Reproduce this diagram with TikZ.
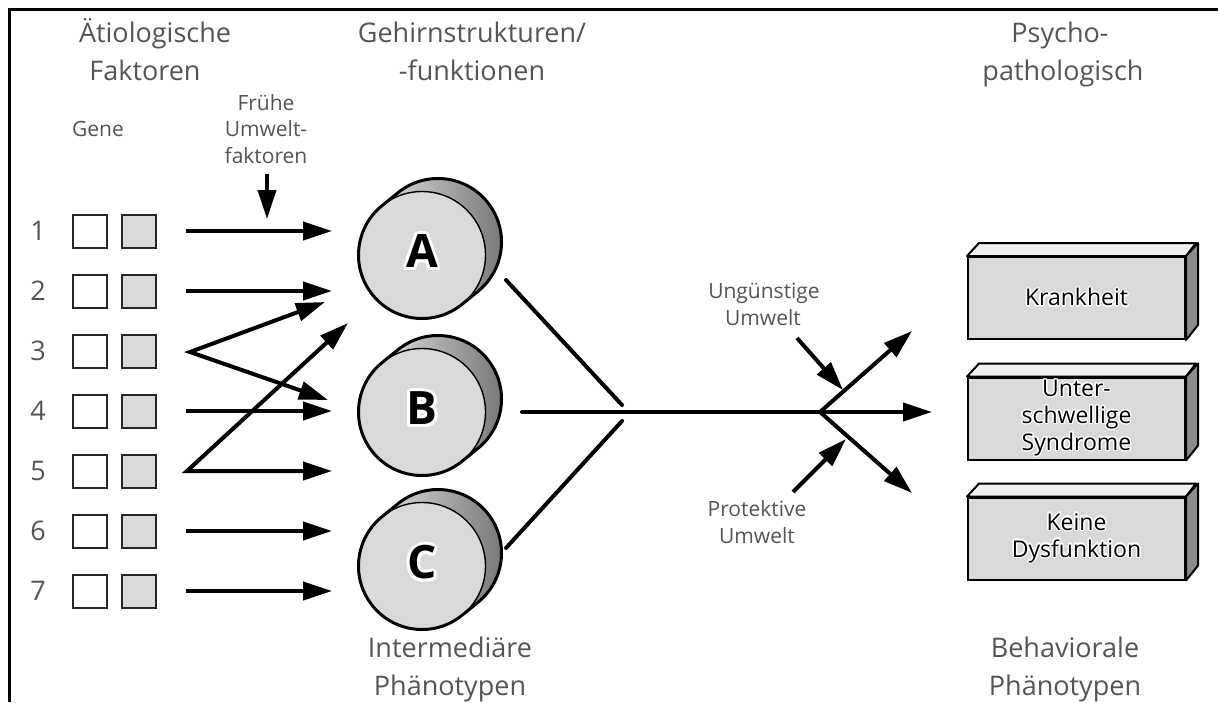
\documentclass[tikz,border=0pt]{standalone}
\usepackage{fontspec}
\setmainfont{Open Sans}
\usepackage{contour}
\contourlength{1.3pt}
\usetikzlibrary{arrows.meta,calc}
\definecolor{txt}{HTML}{555555}
\definecolor{fillg}{HTML}{D9D9D9}
\definecolor{topg}{HTML}{F0F0F0}
\definecolor{sideg}{HTML}{8C8C8C}
\tikzset{
  hdr/.style={font=\fontsize{27}{32}\selectfont, text=txt, anchor=base, inner sep=0pt},
  sml/.style={font=\fontsize{21}{25}\selectfont, text=txt, anchor=base, inner sep=0pt},
  num/.style={font=\fontsize{27}{32}\selectfont, text=txt, anchor=base, inner sep=0pt},
  genebox/.style={draw=black!85, line width=2pt, minimum width=34pt, minimum height=33pt, inner sep=0pt},
  arr/.style={line width=4pt, -{Triangle[length=29pt,width=18pt]}},
  darr/.style={line width=4pt, line join=miter, {Triangle[length=29pt,width=18pt]}-{Triangle[length=29pt,width=18pt]}},
  conn/.style={line width=4pt, line cap=round},
  pfront/.style={draw=black, line width=2pt, fill=fillg, minimum width=217pt, minimum height=82pt, inner sep=0pt, align=center, font=\fontsize{23}{27}\selectfont},
  face/.style={draw=black, line width=2pt, line join=round},
  cyltxt/.style={font=\fontsize{46}{50}\selectfont\bfseries, inner sep=0pt},
  frame/.style={line width=3pt}
}
\newcommand{\mycyl}[4]{%
  \coordinate (#1) at (#2,#3);
  \shade[left color=white!95!black, middle color=white!82!black, right color=black!55]
    ($(#1)+(50.9:63.5)$) -- ++(16,-13) arc[start angle=50.9,end angle=-129.1,radius=63.5]
    -- ($(#1)+(-129.1:63.5)$) arc[start angle=-129.1,end angle=-309.1,radius=63.5] -- cycle;
  \fill[fillg] (#1) circle[radius=63.5];
  \draw[line width=1.4pt] (#1) circle[radius=63.5];
  \draw[line width=3pt, line join=round]
    ($(#1)+(50.9:63.5)$) -- ++(16,-13) arc[start angle=50.9,end angle=-129.1,radius=63.5]
    -- ($(#1)+(-129.1:63.5)$) arc[start angle=-129.1,end angle=-309.1,radius=63.5] -- cycle;
  \node[cyltxt] (#1l) at ($(#1)+(0,-2)$) {\contourlength{3pt}\contour{white}{#4}};
}
\newcommand{\mybox}[3]{%
  \node[pfront] (#1) at (1076.5,#2) {#3};
  \filldraw[face, fill=topg] (#1.north west) -- ++(12,-13) -- ++(217,0) -- (#1.north east) -- cycle;
  \filldraw[face, fill=sideg] (#1.north east) -- ++(12,-13) -- ++(0,82) -- (#1.south east) -- cycle;
}
\begin{document}
\begin{tikzpicture}[x=1pt,y=-1pt]
\useasboundingbox (0,0) rectangle (1218,702);
\fill[white] (0,0) rectangle (1218,702);
% frame
\coordinate (fr1) at (8,9.5);
\coordinate (fr2) at (1218,9.5);
\coordinate (fr3) at (9.5,8);
\coordinate (fr4) at (9.5,702);
\draw[frame] (fr1) -- (fr2);
\draw[frame] (fr3) -- (fr4);
% headers
\node[hdr] (h1a) at (155,42) {Ätiologische};
\node[hdr] (h1b) at (145,80) {Faktoren};
\node[hdr] (h2a) at (472,42) {Gehirnstrukturen/};
\node[hdr] (h2b) at (472,80) {-funktionen};
\node[hdr] (h3a) at (1060,42) {Psycho-};
\node[hdr] (h3b) at (1063,80) {pathologisch};
\node[hdr] (b2a) at (450,657) {Intermediäre};
\node[hdr] (b2b) at (450,695) {Phänotypen};
\node[hdr] (b3a) at (1065,657) {Behaviorale};
\node[hdr] (b3b) at (1065,695) {Phänotypen};
\node[sml] (gene) at (98,136) {Gene};
\node[sml] (fr1l) at (266,110) {Frühe};
\node[sml] (fr2l) at (266,136.5) {Umwelt-};
\node[sml] (fr3l) at (266,163) {faktoren};
\node[sml] (ung1) at (764,298) {Ungünstige};
\node[sml] (ung2) at (763,325) {Umwelt};
\node[sml] (pro1) at (757,516) {Protektive};
\node[sml] (pro2) at (757,543) {Umwelt};
% gene rows
\foreach \i/\y in {1/231,2/291,3/351,4/411,5/471,6/531,7/591}{
  \node[num] (n\i) at (38,\y+9.5) {\i};
  \node[genebox] (w\i) at (90,\y) {};
  \node[genebox, fill=fillg] (g\i) at (138.5,\y) {};
  \coordinate (s\i) at (186,\y);
  \coordinate (t\i) at (332,\y);
}
\coordinate (s3b) at (190,352);
\coordinate (s5b) at (187,471);
\coordinate (tA3) at (325,302);
\coordinate (tB3) at (328,400);
\coordinate (tA5) at (348,323);
\draw[arr] (s1) -- (t1);
\draw[arr] (s2) -- (t2);
\draw[darr] (tA3) -- (s3b) -- (tB3);
\draw[arr] (s4) -- (t4);
\draw[darr] (tA5) -- (s5b) -- (t5);
\draw[arr] (s6) -- (t6);
\draw[arr] (s7) -- (t7);
% early environment arrow
\coordinate (fu) at (267,174);
\coordinate (fd) at (267,219);
\draw[arr] (fu) -- (fd);
% cylinders
\mycyl{cA}{422}{255}{A}
\mycyl{cB}{422}{412}{B}
\mycyl{cC}{422}{566}{C}
% converging lines
\coordinate (a1) at (506,280);
\coordinate (a2) at (622,405);
\coordinate (c1) at (506,548);
\coordinate (c2) at (622,421);
\coordinate (m1) at (522,412);
\coordinate (fork) at (820,412);
\coordinate (tu) at (912,331);
\coordinate (tm) at (932,412);
\coordinate (tl) at (912,493);
\draw[conn] (a1) -- (a2);
\draw[conn] (c1) -- (c2);
\draw[line width=4pt, line cap=round] (m1) -- (fork);
\draw[arr] (fork) -- (tm);
\draw[arr, line join=miter] (fork) -- (tu);
\draw[arr, line join=miter] (fork) -- (tl);
\coordinate (uf) at (797,338);
\coordinate (ut) at (843,390);
\coordinate (pf) at (793,492);
\coordinate (pt) at (846,439);
\draw[arr] (uf) -- (ut);
\draw[arr] (pf) -- (pt);
% outcome boxes
\mybox{kr}{298}{\contour{white}{Krankheit}}
\mybox{us}{418.5}{\contour{white}{Unter-}\\\contour{white}{schwellige}\\\contour{white}{Syndrome}}
\mybox{kd}{538.5}{\contour{white}{Keine}\\\contour{white}{Dysfunktion}}
\end{tikzpicture}
\end{document}
